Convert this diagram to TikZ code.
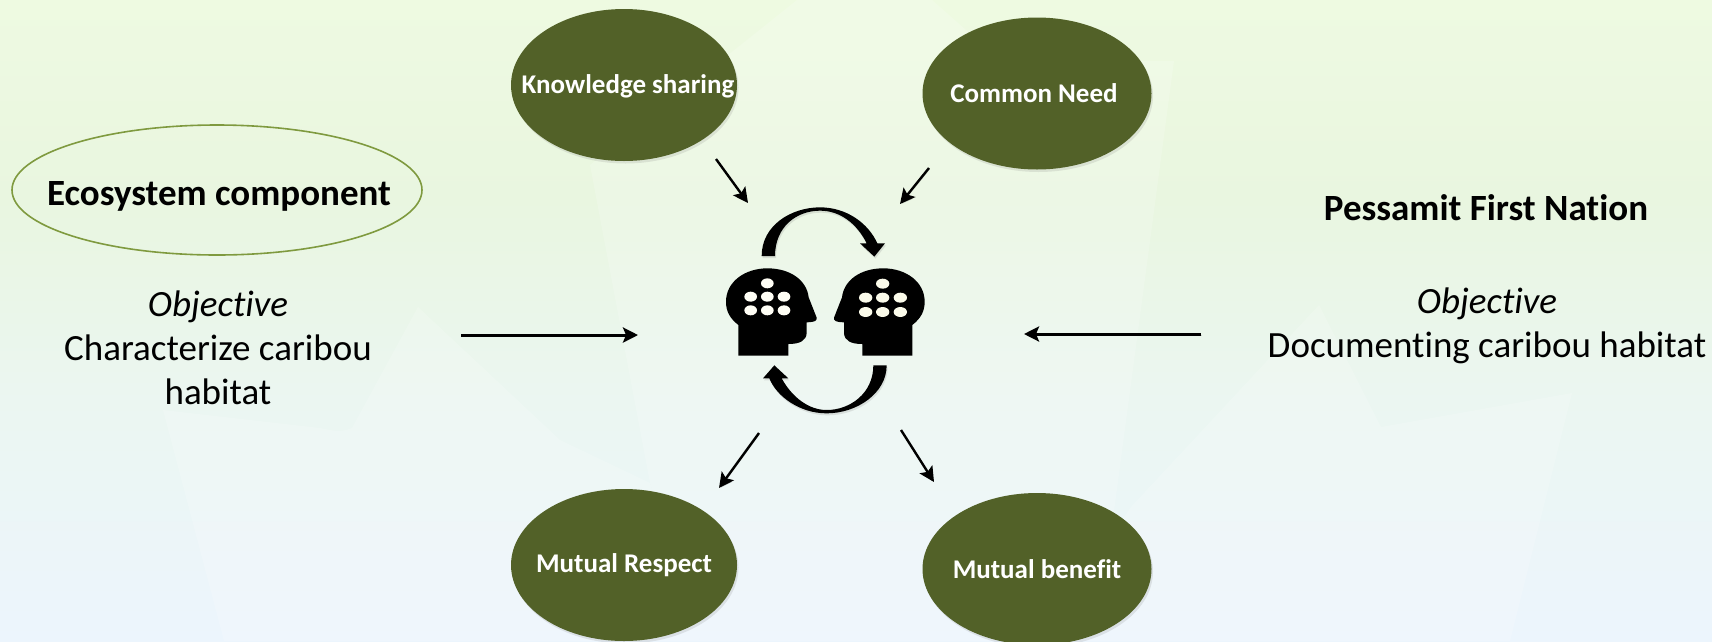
\documentclass[tikz,border=0pt]{standalone}
\usepackage{fontspec}
\setmainfont{Carlito}[Ligatures=CommonOff]
\usetikzlibrary{shapes.geometric,arrows.meta,shadows}
\definecolor{olivefill}{HTML}{526128}
\definecolor{oliveline}{HTML}{7F9A3F}
\definecolor{creamdot}{HTML}{FBFBEA}
\definecolor{bgA}{RGB}{238,250,225}
\definecolor{bgB}{RGB}{233,246,224}
\definecolor{bgC}{RGB}{235,246,241}
\definecolor{bgD}{RGB}{236,245,253}
\tikzset{
  greenball/.style={ellipse,fill=olivefill,text=white,inner sep=0pt,minimum width=#1,minimum height=152pt,
    font=\fontsize{27}{30}\selectfont\bfseries,
    drop shadow={opacity=.18,shadow xshift=1.5pt,shadow yshift=-2.5pt}},
  conn/.style={-{Stealth[length=15pt,width=15pt,inset=3pt]},line width=2.4pt,black,
    preaction={draw=black,opacity=.12,transform canvas={xshift=.5pt,yshift=-1.5pt}}},
  hconn/.style={conn,line width=3pt},
  bodytext/.style={align=center,inner sep=0pt,font=\fontsize{37}{44}\selectfont},
  headtext/.style={inner sep=0pt,font=\fontsize{37}{40}\selectfont\bfseries},
  leaf/.style={fill=white,opacity=.17,draw=none},
  headshape/.style={fill=black,draw=none},
  flow/.style={fill=black,draw=none,drop shadow={opacity=.2,shadow xshift=1pt,shadow yshift=-2pt}}
}
\begin{document}
\begin{tikzpicture}[x=1pt,y=-1pt]
\useasboundingbox (0,0) rectangle (1712,641);
% background
\begin{scope}
\clip (0,0) rectangle (1712,641);
\shade[top color=bgA,bottom color=bgB] (0,0) rectangle (1712,200.5);
\shade[top color=bgB,bottom color=bgC] (0,200) rectangle (1712,400.5);
\shade[top color=bgC,bottom color=bgD] (0,400) rectangle (1712,641);
% faint maple-leaf forms
\fill[leaf] (418,307) -- (352,428) .. controls (340,432) .. (320,428) -- (163,410) -- (224,641) -- (700,641) -- (650,483) -- (560,440) -- cycle;
\fill[leaf] (797,0) -- (590,165) -- (650,483) -- (700,641) -- (1050,641) -- (1114,511) -- (1174,61) -- (1000,60) -- (932,0) -- cycle;
\fill[leaf] (1319,305) -- (1131,507) -- (1040,641) -- (1510,641) -- (1572,393) -- (1381,427) -- cycle;
\end{scope}
% ovals
\node[ellipse,draw=oliveline,line width=1.6pt,fill=none,inner sep=0pt,minimum width=410pt,minimum height=130pt] (eco) at (217,190) {};
\node[headtext] (ecolabel) at (219,196) {Ecosystem component};
\node[headtext] (pessamit) at (1486,208) {Pessamit First Nation};
\node[bodytext] (leftobj) at (218,348) {\textit{Objective}\\Characterize caribou\\habitat};
\node[bodytext] (rightobj) at (1487,326) {\textit{Objective}\\Documenting caribou habitat};
\node[greenball=226pt] (ks) at (624,85) {\makebox[0pt][c]{\hspace*{8pt}\raisebox{-8.5pt}[0pt][0pt]{Knowledge sharing}}};
\node[greenball=229pt] (cn) at (1037,93.5) {\makebox[0pt][c]{\hspace*{-6pt}Common Need}};
\node[greenball=226pt] (mr) at (624,565) {\makebox[0pt][c]{Mutual Respect}};
\node[greenball=229pt] (mb) at (1037,569) {\makebox[0pt][c]{Mutual benefit}};
% connector ends
\coordinate (ksA) at (716,159);  \coordinate (ksB) at (748,203);
\coordinate (cnA) at (929,168);  \coordinate (cnB) at (900,204);
\coordinate (mrA) at (759,433);  \coordinate (mrB) at (719,488);
\coordinate (mbA) at (901,430);  \coordinate (mbB) at (934,482);
\coordinate (lA) at (461,335);   \coordinate (lB) at (638,335);
\coordinate (rA) at (1201,334);  \coordinate (rB) at (1024,334);
\draw[conn] (ksA) -- (ksB);
\draw[conn] (cnA) -- (cnB);
\draw[conn] (mrA) -- (mrB);
\draw[conn] (mbA) -- (mbB);
\draw[hconn] (lA) -- (lB);
\draw[hconn] (rA) -- (rB);
% heads and circular arrows, in crop coordinates
\begin{scope}[shift={(680,180)},x=.33333pt,y=-.33333pt]
\fill[headshape] (175,527) -- (175,435) .. controls (150,415) and (138,395) .. (138,365)
  .. controls (138,305) and (195,265) .. (262,265) .. controls (330,265) and (380,300) .. (386,352)
  -- (410,413) .. controls (411,423) and (405,426) .. (380,427) -- (380,460)
  .. controls (378,482) and (360,492) .. (325,492) -- (325,527) -- cycle;
\fill[headshape] (697,527) -- (697,435) .. controls (722,415) and (734,395) .. (734,365)
  .. controls (734,305) and (677,265) .. (610,265) .. controls (542,265) and (492,300) .. (486,352)
  -- (462,413) .. controls (461,423) and (467,426) .. (492,427) -- (492,460)
  .. controls (494,482) and (512,492) .. (547,492) -- (547,527) -- cycle;
\foreach \cx/\cy in {262/310,212/350,262/350,312/350,212/391,262/391,312/391}
  \fill[white!96!yellow] (\cx,\cy) ellipse [x radius=19,y radius=15];
\foreach \cx/\cy in {608/311,557/353,608/353,661/353,557/396,608/396,661/396}
  \fill[creamdot] (\cx,\cy) ellipse [x radius=20,y radius=15];
\path[flow] (245,228) .. controls (245,135) and (335,82) .. (420,82) .. controls (500,82) and (565,130) .. (592,190)
  -- (615,190) -- (583,230) -- (540,190) -- (560,190) .. controls (530,130) and (480,92) .. (420,92)
  .. controls (350,92) and (285,140) .. (285,228) -- cycle;
\path[flow] (620,556) .. controls (620,640) and (530,700) .. (440,700) .. controls (360,700) and (290,650) .. (268,595)
  -- (249,595) -- (283,556) -- (325,595) -- (305,595) .. controls (335,650) and (385,690) .. (440,690)
  .. controls (510,690) and (580,640) .. (580,556) -- cycle;
\end{scope}
\end{tikzpicture}
\end{document}
